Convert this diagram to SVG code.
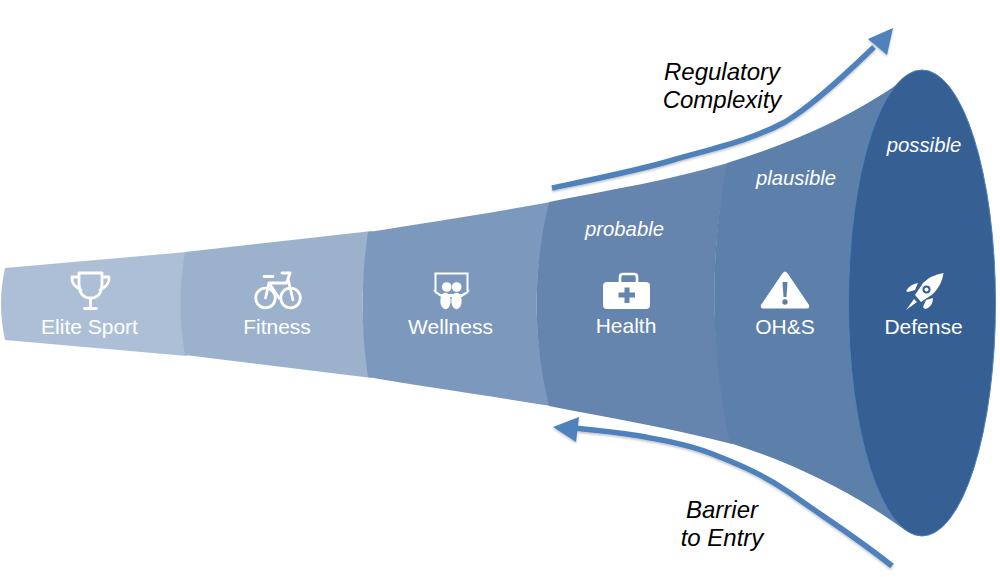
<svg xmlns="http://www.w3.org/2000/svg" width="1000" height="577" viewBox="0 0 1000 577">
<defs>
<filter id="sh" x="-10%" y="-10%" width="120%" height="120%"><feDropShadow dx="0" dy="1.5" stdDeviation="1.2" flood-color="#000" flood-opacity="0.25"/></filter>
</defs>
<style>
text{font-family:"Liberation Sans",Arial,sans-serif}
.l{fill:#fff;font-size:21px;text-anchor:middle}
.i{fill:#fff;font-size:20.300px;font-style:italic;text-anchor:middle}
.b{fill:#000;font-size:24px;font-style:italic;text-anchor:middle}
.o{fill:none;stroke:#fff;stroke-width:2.800;stroke-linecap:round;stroke-linejoin:round}
.w{fill:#fff}
.a{fill:none;stroke:#4f81bd;stroke-width:5.500}
.h{fill:#4f81bd}
</style>
<g id="elite-sport">
<path d="M5 268L187 252Q178 304 187 356L5 340Q-3 304 5 268Z" fill="#acbfd7"/>
<path class="o" d="M79 273H102V283Q102 298 90.500 298Q79 298 79 283ZM79 277H72Q71 285 81 290M102 277H109Q110 285 100 290M90.500 298V308M84.500 308.500H96.500"/>
<text class="l" x="89.500" y="334">Elite Sport</text>
</g>
<g id="fitness">
<path d="M185 252L372 231Q353 304 372 378L185 355Q176 304 185 252Z" fill="#9cb1cc"/>
<g class="o"><circle cx="265.500" cy="298" r="9.800"/><circle cx="290.500" cy="298" r="9.800"/><path d="M264 276.500H273M282 273H290L286.500 283H269L265.500 298M269 283L279 298M288 279L293 300"/></g>
<text class="l" x="277" y="334">Fitness</text>
</g>
<g id="wellness">
<path d="M368 232C420 224 490 213 551 202Q522 304 551 406C490 396 420 386 368 377Q357 304 368 232Z" fill="#7c99bd"/>
<path d="M435.500 291V273.500H467.500V291" fill="none" stroke="#fff" stroke-width="2"/>
<path class="w" d="M433 289.500L441 294H462L470 289.500L468 293L462 297H441L435 293Z"/>
<circle cx="446.700" cy="287" r="4.800" class="w"/><circle cx="456.700" cy="287" r="4.800" class="w"/>
<ellipse class="w" cx="445.500" cy="301" rx="5.200" ry="8.300"/><ellipse class="w" cx="456.500" cy="301" rx="5.200" ry="8.300"/>
<text class="l" x="450.500" y="334">Wellness</text>
</g>
<g id="health">
<path d="M549 202C610 190 670 180 728 163Q699 304 732 444C670 428 610 418 549 406Q524 304 549 202Z" fill="#6584ae"/>
<path d="M620 282V277Q620 274 623 274H634Q637 274 637 277V282" fill="none" stroke="#fff" stroke-width="2.600"/>
<rect class="w" x="603" y="282" width="47" height="27" rx="4"/>
<path d="M624.500 287.500H629.500V292.500H635V297.500H629.500V303H624.500V297.500H618.500V292.500H624.500Z" fill="#6584ae"/>
<text class="l" x="626" y="332.500">Health</text>
</g>
<g id="ohs">
<path d="M727 163C790 144 850 117 898 84L905 530C850 490 790 462 730 443Q700 304 727 163Z" fill="#5d80aa"/>
<path class="w" d="M785 271.500Q786.500 271.500 788 274L809 305Q810 308.500 807 308.500H763Q760 308.500 761 305L782 274Q783.500 271.500 785 271.500Z"/>
<path d="M782.500 282H787.500L786.500 297H783.500Z" fill="#5d80aa"/><circle cx="785" cy="302" r="2.700" fill="#5d80aa"/>
<text class="l" x="785" y="334">OH&amp;S</text>
</g>
<g id="defense">
<ellipse cx="922" cy="303" rx="73.500" ry="233" fill="#365f93" stroke="#4f81bd" stroke-width="1"/>
<path class="w" d="M943.500 273Q931 275 923 283L915 295L921 302L933 294Q942 285 943.500 273Z"/>
<circle cx="926.500" cy="289.500" r="4" fill="#365f93"/>
<circle cx="926.500" cy="289.500" r="2" class="w"/>
<path class="w" d="M918 283Q910 284 906 291L908 292L915 290Z M933 298Q933 307 925 309L923 307L926 300Z M906 310L914 299L917 302Z"/>
<text class="l" x="923.500" y="334">Defense</text>
</g>
<g id="connectors">
<g filter="url(#sh)">
<path class="a" d="M552 188C600 178 640 170 673 160C715 148 752 140 785 122C812 106 845 75 874 47"/>
<path class="h" d="M893 28L868 39L887 55Z"/>
</g>
<g filter="url(#sh)">
<path class="a" d="M892 566C860 540 825 518 790 493C765 476 745 467 720 457C690 444 660 440 640 436C615 432 595 430 574 428"/>
<path class="h" d="M553 427L579 417L576 442Z"/>
</g>
</g>
<g id="labels">
<text class="i" x="624.500" y="235.500">probable</text>
<text class="i" x="796" y="185">plausible</text>
<text class="i" x="924" y="152">possible</text>
<text class="b" x="722" y="79.500">Regulatory</text>
<text class="b" x="722" y="107.500">Complexity</text>
<text class="b" x="722" y="517.500">Barrier</text>
<text class="b" x="722" y="545.500">to Entry</text>
</g>
</svg>
